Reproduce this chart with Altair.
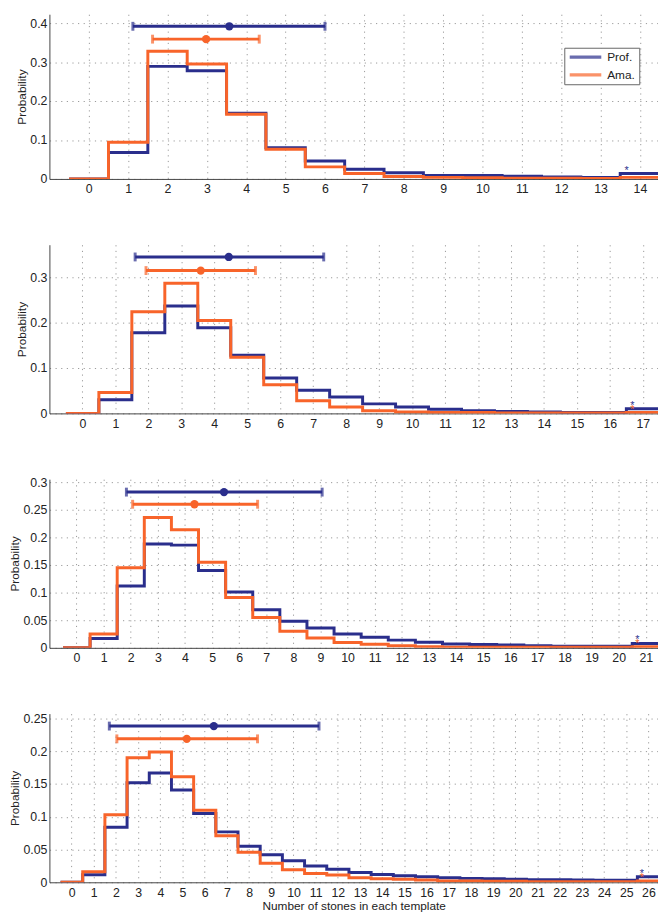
import altair as alt
import pandas as pd

BLUE = "#2a2e8c"
ORANGE = "#f8642a"
FONT = "Liberation Sans"

# probability of bins 1..N (bin 0 is empty); the last bin is the starred one
prof_1 = [0.068, 0.289, 0.278, 0.169, 0.080, 0.046, 0.025, 0.016, 0.009, 0.009,
          0.007, 0.005, 0.004, 0.014]
ama_1 = [0.094, 0.328, 0.295, 0.166, 0.076, 0.031, 0.014, 0.006, 0.004, 0.003,
         0.002, 0.002, 0.001, 0.004]

prof_2 = [0.030, 0.178, 0.237, 0.189, 0.128, 0.078, 0.051, 0.036, 0.021, 0.014,
          0.009, 0.006, 0.004, 0.003, 0.002, 0.002, 0.010]
ama_2 = [0.046, 0.224, 0.287, 0.205, 0.124, 0.063, 0.028, 0.014, 0.006, 0.003,
         0.002, 0.002, 0.001, 0.001, 0.001, 0.001, 0.002]

prof_3 = [0.017, 0.112, 0.188, 0.186, 0.140, 0.101, 0.069, 0.048, 0.036, 0.025,
          0.019, 0.014, 0.010, 0.007, 0.006, 0.005, 0.004, 0.003, 0.003, 0.003,
          0.008]
ama_3 = [0.025, 0.145, 0.236, 0.214, 0.155, 0.091, 0.055, 0.030, 0.018, 0.0095,
         0.0065, 0.0036, 0.002, 0.001, 0.001, 0.001, 0.001, 0.001, 0.001, 0.001,
         0.002]

prof_4 = [0.0115, 0.084, 0.152, 0.167, 0.141, 0.105, 0.077, 0.055, 0.042, 0.033,
          0.025, 0.020, 0.015, 0.012, 0.010, 0.0085, 0.007, 0.006, 0.0055, 0.0045,
          0.004, 0.004, 0.0035, 0.003, 0.003, 0.0085]
ama_4 = [0.016, 0.103, 0.190, 0.199, 0.161, 0.110, 0.071, 0.046, 0.029, 0.019,
         0.0135, 0.011, 0.007, 0.0055, 0.0045, 0.0035, 0.002, 0.002, 0.0015, 0.0015,
         0.001, 0.001, 0.001, 0.001, 0.001, 0.002]

# mean +- spread bars drawn above each histogram
prof_mean = [3.57, 4.44, 5.44, 6.41]
prof_lo = [1.12, 1.60, 1.84, 1.70]
prof_hi = [6.00, 7.32, 9.06, 11.15]
prof_level = [0.392, 0.345, 0.282, 0.2385]
ama_mean = [2.98, 3.59, 4.35, 5.19]
ama_lo = [1.62, 1.93, 2.07, 2.04]
ama_hi = [4.33, 5.25, 6.68, 8.38]
ama_level = [0.359, 0.315, 0.260, 0.219]

# asterisks over the last bin
prof_star_x = [13.66, 16.68, 20.69, 25.7]
prof_star_y = [0.025, 0.021, 0.018, 0.016]
ama_star_x = [16.68, 20.69, 25.7]
ama_star_y = [0.012, 0.010, 0.010]

# visible axis window (the figure is cut at the right edge)
x_max = [14.46, 17.46, 21.45, 26.43]
y_max = [0.423, 0.372, 0.3054, 0.2575]
y_ticks = [
    [0, 0.1, 0.2, 0.3, 0.4],
    [0, 0.1, 0.2, 0.3],
    [0, 0.05, 0.1, 0.15, 0.2, 0.25, 0.3],
    [0, 0.05, 0.1, 0.15, 0.2, 0.25],
]
heights = [167, 171, 171, 171]
WIDTH = 617


def step_rows(vals, name):
    ys = [0.0] + vals + [vals[-1]]
    return [{"edge": k - 0.5, "p": v, "group": name} for k, v in enumerate(ys)]


def make_panel(i, prof, ama, legend, xtitle):
    n = len(prof)
    xs = alt.Scale(domain=[-1, x_max[i]], nice=False, zero=False)
    ys = alt.Scale(domain=[0, y_max[i]], nice=False)
    x_axis = alt.Axis(values=list(range(n + 1)), labelPadding=4, titlePadding=2)
    y_axis = alt.Axis(values=y_ticks[i], format=".2~f", labelPadding=2.5, titlePadding=1.5)

    def X(field):
        return alt.X(field, scale=xs, axis=x_axis, title=xtitle)

    def Y(field):
        return alt.Y(field, scale=ys, axis=y_axis, title="Probability")

    color = alt.Color(
        "group:N",
        scale=alt.Scale(domain=["Prof.", "Ama."], range=[BLUE, ORANGE]),
        legend=legend,
    )
    fixed = alt.Color("col:N", scale=None)

    lines = pd.DataFrame(step_rows(prof, "Prof.") + step_rows(ama, "Ama."))
    base = alt.Chart(lines).mark_line(
        interpolate="step-after", strokeWidth=3, clip=True
    ).encode(x=X("edge:Q"), y=Y("p:Q"), color=color)
    blue_line = base.transform_filter(alt.datum.group == "Prof.")
    orange_line = base.transform_filter(alt.datum.group == "Ama.")

    bars = pd.DataFrame({
        "mean": [prof_mean[i], ama_mean[i]],
        "lo": [prof_lo[i], ama_lo[i]],
        "hi": [prof_hi[i], ama_hi[i]],
        "level": [prof_level[i], ama_level[i]],
        "col": [BLUE, ORANGE],
    })
    eb = alt.Chart(bars)
    rule = eb.mark_rule(strokeWidth=3).encode(
        x=X("lo:Q"), x2="hi:Q", y=Y("level:Q"), color=fixed)
    cap_lo = eb.mark_tick(orient="vertical", size=9, thickness=3).encode(
        x=X("lo:Q"), y=Y("level:Q"), color=fixed)
    cap_hi = eb.mark_tick(orient="vertical", size=9, thickness=3).encode(
        x=X("hi:Q"), y=Y("level:Q"), color=fixed)
    dot = eb.mark_point(filled=True, size=70, opacity=1).encode(
        x=X("mean:Q"), y=Y("level:Q"), color=fixed)

    sx = [prof_star_x[i]]
    sy = [prof_star_y[i]]
    sc = [BLUE]
    if i > 0:
        sx.append(ama_star_x[i - 1])
        sy.append(ama_star_y[i - 1])
        sc.append(ORANGE)
    stars = pd.DataFrame({"x": sx, "y": sy, "col": sc})
    star = alt.Chart(stars).mark_text(text="*", fontSize=11, baseline="middle", dy=2).encode(
        x=X("x:Q"), y=Y("y:Q"), color=fixed)

    return alt.layer(blue_line, orange_line, rule, cap_lo, cap_hi, dot, star).properties(
        width=WIDTH, height=heights[i])


top_legend = alt.Legend(
    title=None, orient="none", legendX=522, legendY=34, direction="vertical",
    symbolType="stroke", symbolSize=1024, symbolStrokeWidth=3.5, clipHeight=12,
    labelFont=FONT, labelFontSize=12, labelColor="#222", labelOffset=4,
    strokeColor="#666", fillColor="white", padding=3.5, rowPadding=6,
)

p1 = make_panel(0, prof_1, ama_1, top_legend, None)
p2 = make_panel(1, prof_2, ama_2, None, None)
p3 = make_panel(2, prof_3, ama_3, None, None)
p4 = make_panel(3, prof_4, ama_4, None, "Number of stones in each template")

chart = (
    alt.vconcat(p1, p2, p3, p4, spacing=66.7, bounds="flush")
    .resolve_scale(color="independent")
    .properties(padding=0)
    .configure_view(stroke=None)
    .configure_axis(
        labelFont=FONT, labelFontSize=12.5, labelColor="#222",
        titleFont=FONT, titleFontSize=12, titleColor="#222", titleFontWeight="normal",
        domainColor="#444", domainWidth=1, tickSize=0, labelFlush=False, labelOverlap=False,
        grid=True, gridColor="#999", gridDash=[1.2, 4.5], gridWidth=1,
    )
)

chart.save("out.html", embed_options={"renderer": "svg", "actions": False})
